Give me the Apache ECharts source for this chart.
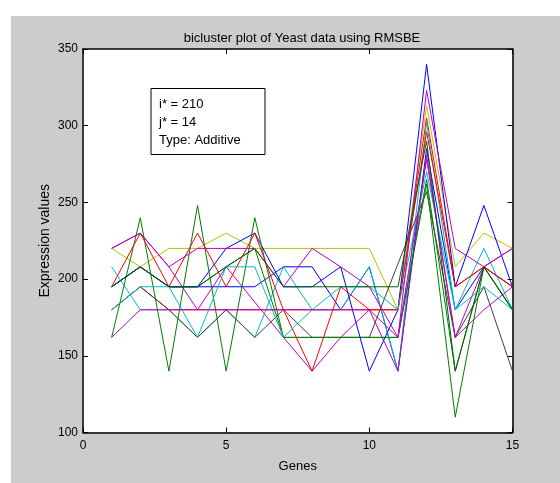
<!DOCTYPE html>
<html>
<head>
<meta charset="utf-8">
<script src="https://cdn.jsdelivr.net/npm/echarts@6/dist/echarts.min.js"></script>
<style>
html,body{margin:0;padding:0;background:#fff;}
#wrap{position:relative;width:560px;height:483px;}
#bg{position:absolute;left:11px;top:16px;width:549px;height:467px;background:#cccccc;}
#c{position:absolute;left:0;top:0;width:560px;height:483px;}
</style>
</head>
<body>
<div id="wrap"><div id="bg"></div><div id="c"></div></div>
<script>
// ---- data ----
const genes = [1,2,3,4,5,6,7,8,9,10,11,12,13,14,15];
const xTicks = [0,5,10,15];
const yTicks = [100,150,200,250,300,350];
const titleText = 'bicluster plot of Yeast data using RMSBE';
const xLabel = 'Genes';
const yLabel = 'Expression values';
const boxLines = ['i* = 210', 'j* = 14', 'Type: Additive'];

const rowBlueB    = [195,208,195,195,195,195,208,208,180,208,140,285,180,208,195];
const rowGreenB   = [195,208,195,195,208,220,162,162,162,162,162,265,140,208,180];
const rowRedB     = [180,195,180,180,180,180,180,180,180,180,180,305,195,208,195];
const rowCyanA    = [208,180,180,162,180,162,208,180,180,208,140,302,180,220,180];
const rowMagentaB = [220,230,208,180,208,185,162,140,162,180,140,281,162,208,220];
const rowYellow   = [220,208,220,220,230,220,220,220,220,220,180,313,208,230,220];
const rowGray     = [180,195,180,162,180,162,180,162,162,162,210,257,162,195,140];
const rowBlueA    = [195,208,195,195,220,230,195,195,208,140,180,340,195,248,195];
const rowGreenA   = [162,240,140,248,140,240,162,162,162,162,162,262,110,208,180];
const rowRedA     = [195,230,195,230,195,230,180,140,195,180,180,296,195,208,195];
const rowCyanB    = [180,195,195,162,208,208,162,180,195,195,180,270,180,195,180];
const rowMagentaA = [220,230,208,220,220,220,195,220,208,195,162,323,220,208,220];
const rowPurple   = [162,180,180,180,180,180,180,180,180,180,162,278,162,180,195];
const rowDarkGreen= [195,208,195,195,208,220,195,195,195,195,195,290,140,208,180];

// ---- styles (kept apart from data) ----
const rows = [
  [rowBlueB,'#0000ff'],[rowGreenB,'#008000'],[rowRedB,'#ff0000'],[rowCyanA,'#00bfbf'],
  [rowMagentaB,'#bf00bf'],[rowYellow,'#bfbf00'],[rowGray,'#404040'],[rowBlueA,'#0000ff'],
  [rowGreenA,'#008000'],[rowRedA,'#ff0000'],[rowCyanB,'#00bfbf'],[rowMagentaA,'#bf00bf'],
  [rowPurple,'#bf00bf'],[rowDarkGreen,'#006000']
];
const FONT = '"Liberation Sans", Arial, Helvetica, sans-serif';

const series = rows.map(([vals,color],i)=>({
  type:'line', name:'r'+i, xAxisIndex:0, yAxisIndex:0,
  data: genes.map((g,k)=>[g, vals[k]]),
  symbol:'none', lineStyle:{color, width:1}, itemStyle:{color},
  silent:true, z:3
}));

const axLine = {show:true, onZero:false, lineStyle:{color:'#000', width:1.5}};
const tick = {show:true, inside:true, length:5, lineStyle:{color:'#000', width:1}};

const chart = echarts.init(document.getElementById('c'), null, {renderer:'canvas'});
chart.setOption({
  animation:false,
  backgroundColor:'transparent',
  title:{text:titleText, left:297, top:27, textAlign:'center',
    textStyle:{fontFamily:FONT, fontSize:13, fontWeight:'normal', color:'#000'}},
  grid:{left:83, right:47.5, top:49, bottom:50.5, show:true, backgroundColor:'#ffffff', borderWidth:0},
  xAxis:[
    {type:'value', position:'bottom', min:xTicks[0], max:xTicks[xTicks.length-1], interval:5,
     axisLine:axLine, axisTick:tick, splitLine:{show:false},
     axisLabel:{show:true, margin:7, color:'#000', fontFamily:FONT, fontSize:12},
     name:xLabel, nameLocation:'middle', nameGap:27,
     nameTextStyle:{color:'#000', fontFamily:FONT, fontSize:13}},
    {type:'value', position:'top', min:xTicks[0], max:xTicks[xTicks.length-1], interval:5,
     axisLine:axLine, axisTick:tick, splitLine:{show:false}, axisLabel:{show:false}}
  ],
  yAxis:[
    {type:'value', position:'left', min:yTicks[0], max:yTicks[yTicks.length-1], interval:50,
     axisLine:axLine, axisTick:tick, splitLine:{show:false},
     axisLabel:{show:true, margin:5, color:'#000', fontFamily:FONT, fontSize:12},
     name:yLabel, nameLocation:'middle', nameGap:31, nameMoveOverlap:false,
     nameTextStyle:{color:'#000', fontFamily:FONT, fontSize:14}},
    {type:'value', position:'right', min:yTicks[0], max:yTicks[yTicks.length-1], interval:50,
     axisLine:axLine, axisTick:tick, splitLine:{show:false}, axisLabel:{show:false}}
  ],
  graphic:[
    {type:'group', left:150.5, top:88, z:100, children:[
      {type:'rect', shape:{x:0, y:0, width:114, height:66},
       style:{fill:'#fff', stroke:'#000', lineWidth:1}},
      {type:'text', x:8, y:16, style:{text:boxLines[0], font:'13px '+FONT, fill:'#000', verticalAlign:'middle'}},
      {type:'text', x:8, y:33.5, style:{text:boxLines[1], font:'13px '+FONT, fill:'#000', verticalAlign:'middle'}},
      {type:'text', x:8, y:51.5, style:{text:boxLines[2], font:'13px '+FONT, fill:'#000', verticalAlign:'middle'}}
    ]}
  ],
  series
});
</script>
</body>
</html>
